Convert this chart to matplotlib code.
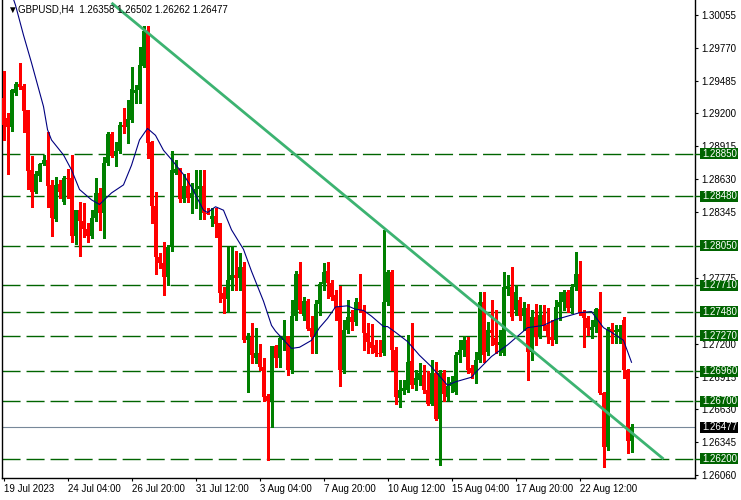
import matplotlib
matplotlib.use("Agg")
import matplotlib.pyplot as plt
import matplotlib.transforms as mtransforms
from matplotlib.patches import Rectangle
import numpy as np

plt.rcParams['font.family'] = ['Liberation Sans', 'DejaVu Sans']
plt.rcParams['lines.scale_dashes'] = False

# GBPUSD H4 candles (one entry per bar)
opens = [
    1.2933, 1.2916, 1.2908, 1.2938, 1.2946, 1.2944, 1.2923, 1.2871, 1.2852, 1.2866,
    1.2876, 1.2880, 1.2858, 1.2828, 1.2859, 1.2843, 1.2864, 1.2864, 1.2814, 1.2836,
    1.2827, 1.2820, 1.2814, 1.2829, 1.2851, 1.2834, 1.2877, 1.2902, 1.2883, 1.2887,
    1.2910, 1.2908, 1.2914, 1.2938, 1.2940, 1.2961, 1.2992, 1.2895, 1.2840, 1.2795,
    1.2790, 1.2778, 1.2804, 1.2868, 1.2872, 1.2846, 1.2857, 1.2847, 1.2851, 1.2854,
    1.2857, 1.2834, 1.2828, 1.2831, 1.2825, 1.2764, 1.2759, 1.2775, 1.2780, 1.2777,
    1.2787, 1.2723, 1.2726, 1.2708, 1.2712, 1.2700, 1.2675, 1.2670, 1.2718, 1.2708,
    1.2723, 1.2727, 1.2697, 1.2744, 1.2781, 1.2744, 1.2757, 1.2734, 1.2726, 1.2755,
    1.2772, 1.2783, 1.2773, 1.2762, 1.2752, 1.2697, 1.2732, 1.2743, 1.2739, 1.2756,
    1.2749, 1.2729, 1.2722, 1.2719, 1.2712, 1.2712, 1.2756, 1.2782, 1.2715, 1.2673,
    1.2679, 1.2680, 1.2705, 1.2684, 1.2689, 1.2693, 1.2680, 1.2668, 1.2695, 1.2655,
    1.2695, 1.2674, 1.2683, 1.2678, 1.2710, 1.2715, 1.2723, 1.2699, 1.2695, 1.2706,
    1.2756, 1.2713, 1.2732, 1.2725, 1.2719, 1.2712, 1.2768, 1.2769, 1.2749, 1.2758,
    1.2744, 1.2751, 1.2713, 1.2743, 1.2726, 1.2745, 1.2736, 1.2726, 1.2723, 1.2752,
    1.2756, 1.2765, 1.2751, 1.2769, 1.2781, 1.2747, 1.2742, 1.2732, 1.2735, 1.2750,
    1.2677, 1.2630, 1.2733, 1.2730, 1.2730, 1.2741, 1.2697, 1.26358,
]
highs = [
    1.2957, 1.2920, 1.2941, 1.2947, 1.2964, 1.2946, 1.2923, 1.2883, 1.2870, 1.2877,
    1.2884, 1.2904, 1.2862, 1.2865, 1.2862, 1.2866, 1.2872, 1.2884, 1.2836, 1.2843,
    1.2842, 1.2825, 1.2836, 1.2864, 1.2855, 1.2882, 1.2904, 1.2904, 1.2895, 1.2913,
    1.2925, 1.2932, 1.2960, 1.2945, 1.2978, 1.2996, 1.2996, 1.2896, 1.2852, 1.2799,
    1.2808, 1.2806, 1.2887, 1.2880, 1.2873, 1.2867, 1.2868, 1.2860, 1.2871, 1.2871,
    1.2871, 1.2838, 1.2838, 1.2838, 1.2825, 1.2769, 1.2804, 1.2805, 1.2801, 1.2799,
    1.2791, 1.2729, 1.2738, 1.2734, 1.2720, 1.2708, 1.2676, 1.2718, 1.2719, 1.2726,
    1.2741, 1.2727, 1.2758, 1.2783, 1.2791, 1.2761, 1.2759, 1.2744, 1.2758, 1.2774,
    1.2790, 1.2791, 1.2775, 1.2767, 1.2770, 1.2741, 1.2758, 1.2749, 1.2760, 1.2781,
    1.2754, 1.2738, 1.2737, 1.2723, 1.2723, 1.2819, 1.2784, 1.2784, 1.2717, 1.2689,
    1.2689, 1.2728, 1.2738, 1.2697, 1.2703, 1.2702, 1.2696, 1.2706, 1.2704, 1.2697,
    1.2697, 1.2691, 1.2692, 1.2713, 1.2723, 1.2727, 1.2726, 1.2702, 1.2713, 1.2765,
    1.2765, 1.2739, 1.2758, 1.2749, 1.2732, 1.2782, 1.2780, 1.2787, 1.2771, 1.2761,
    1.2756, 1.2755, 1.2749, 1.2755, 1.2754, 1.2754, 1.2751, 1.2741, 1.2758, 1.2765,
    1.2767, 1.2767, 1.2772, 1.2800, 1.2792, 1.2749, 1.2744, 1.2741, 1.2751, 1.2765,
    1.2678, 1.2735, 1.2738, 1.2736, 1.2736, 1.2743, 1.2698, 1.26502,
]
lows = [
    1.2897, 1.2867, 1.2905, 1.2936, 1.2941, 1.2904, 1.2854, 1.2839, 1.2851, 1.2861,
    1.2875, 1.2839, 1.2814, 1.2827, 1.2847, 1.2841, 1.2847, 1.2808, 1.2807, 1.2796,
    1.2813, 1.2808, 1.2812, 1.2827, 1.2819, 1.2812, 1.2875, 1.2882, 1.2874, 1.2886,
    1.2903, 1.2894, 1.2913, 1.2929, 1.2929, 1.2960, 1.2881, 1.2825, 1.2781, 1.2786,
    1.2762, 1.2771, 1.2801, 1.2867, 1.2843, 1.2843, 1.2843, 1.2834, 1.2838, 1.2828,
    1.2828, 1.2833, 1.2822, 1.2813, 1.2756, 1.2747, 1.2748, 1.2767, 1.2767, 1.2767,
    1.2722, 1.2678, 1.2703, 1.2703, 1.2697, 1.2670, 1.2619, 1.2648, 1.2700, 1.2700,
    1.2715, 1.2693, 1.2695, 1.2741, 1.2747, 1.2741, 1.2732, 1.2712, 1.2712, 1.2745,
    1.2767, 1.2760, 1.2758, 1.2741, 1.2683, 1.2695, 1.2729, 1.2732, 1.2736, 1.2748,
    1.2715, 1.2712, 1.2712, 1.2709, 1.2709, 1.2710, 1.2754, 1.2697, 1.2668, 1.2665,
    1.2676, 1.2678, 1.2682, 1.2680, 1.2684, 1.2677, 1.2667, 1.2667, 1.2654, 1.2615,
    1.2670, 1.2671, 1.2678, 1.2676, 1.2704, 1.2709, 1.2695, 1.2690, 1.2686, 1.2704,
    1.2704, 1.2710, 1.2719, 1.2712, 1.2710, 1.2710, 1.2762, 1.2741, 1.2745, 1.2741,
    1.2732, 1.2689, 1.2706, 1.2719, 1.2725, 1.2732, 1.2721, 1.2719, 1.2721, 1.2741,
    1.2749, 1.2748, 1.2747, 1.2767, 1.2745, 1.2717, 1.2728, 1.2725, 1.2730, 1.2676,
    1.2613, 1.2628, 1.2721, 1.2721, 1.2721, 1.2690, 1.2625, 1.26262,
]
closes = [
    1.2910, 1.2908, 1.2940, 1.2946, 1.2943, 1.2922, 1.2870, 1.2852, 1.2867, 1.2876,
    1.2880, 1.2857, 1.2829, 1.2858, 1.2852, 1.2864, 1.2863, 1.2814, 1.2836, 1.2827,
    1.2820, 1.2814, 1.2829, 1.2851, 1.2834, 1.2877, 1.2902, 1.2883, 1.2887, 1.2910,
    1.2908, 1.2915, 1.2941, 1.2940, 1.2962, 1.2992, 1.2894, 1.2840, 1.2795, 1.2790,
    1.2778, 1.2804, 1.2871, 1.2872, 1.2846, 1.2857, 1.2847, 1.2851, 1.2854, 1.2857,
    1.2834, 1.2833, 1.2831, 1.2824, 1.2764, 1.2759, 1.2775, 1.2780, 1.2777, 1.2787,
    1.2723, 1.2727, 1.2710, 1.2712, 1.2700, 1.2674, 1.2670, 1.2718, 1.2708, 1.2725,
    1.2727, 1.2697, 1.2744, 1.2781, 1.2749, 1.2757, 1.2733, 1.2726, 1.2755, 1.2772,
    1.2782, 1.2773, 1.2761, 1.2751, 1.2697, 1.2732, 1.2743, 1.2739, 1.2756, 1.2749,
    1.2729, 1.2722, 1.2716, 1.2712, 1.2711, 1.2756, 1.2782, 1.2715, 1.2674, 1.2680,
    1.2682, 1.2704, 1.2684, 1.2690, 1.2695, 1.2680, 1.2668, 1.2695, 1.2655, 1.2695,
    1.2676, 1.2683, 1.2687, 1.2710, 1.2715, 1.2723, 1.2697, 1.2695, 1.2706, 1.2756,
    1.2710, 1.2732, 1.2729, 1.2719, 1.2722, 1.2769, 1.2770, 1.2743, 1.2765, 1.2744,
    1.2751, 1.2713, 1.2743, 1.2726, 1.2745, 1.2736, 1.2726, 1.2723, 1.2752, 1.2756,
    1.2765, 1.2751, 1.2769, 1.2781, 1.2747, 1.2742, 1.2734, 1.2735, 1.2750, 1.2677,
    1.2630, 1.2733, 1.2730, 1.2732, 1.2733, 1.2697, 1.26358, 1.26477,
]

# moving average, sampled along the chart (bar number, price)
ma_bar = [0, 3, 5, 7, 10, 11, 12, 15, 17, 19, 22, 24, 27, 30, 32, 34, 36, 38, 40,
          42, 45, 47, 50, 51, 53, 55, 57, 60, 62, 65, 67, 68, 72, 74, 77, 79, 81,
          83, 86, 88, 90, 92, 95, 96, 98, 101, 104, 107, 111, 113, 117, 118, 122,
          126, 131, 135, 138, 142, 144, 147, 150, 152, 155, 157]
ma_val = [1.3045, 1.3014, 1.2988, 1.2964, 1.2926, 1.2906, 1.2897, 1.2884, 1.2871,
          1.2854, 1.2845, 1.2841, 1.2851, 1.2858, 1.2875, 1.2897, 1.2907, 1.2901,
          1.2888, 1.2880, 1.2867, 1.2856, 1.2836, 1.2834, 1.2839, 1.2836, 1.2819,
          1.2802, 1.2783, 1.2757, 1.2736, 1.2731, 1.2716, 1.2717, 1.2723, 1.2734,
          1.2742, 1.2752, 1.2753, 1.2750, 1.2749, 1.2744, 1.2735, 1.2735, 1.2730,
          1.2722, 1.2710, 1.2700, 1.2684, 1.2687, 1.2691, 1.2695, 1.2709, 1.2719,
          1.2734, 1.2736, 1.2741, 1.2745, 1.2747, 1.2748, 1.2734, 1.2730, 1.2723,
          1.2704]

levels = [1.2885, 1.2848, 1.2805, 1.2771, 1.2748, 1.2727, 1.2696, 1.2670, 1.2620]
trend_bar = [27, 165]
trend_val = [1.3016, 1.2620]
last_price = 1.26477
title = 'GBPUSD,H4  1.26358 1.26502 1.26262 1.26477'

# scale labels that are not hidden behind a level box
price_ticks = [1.30055, 1.29770, 1.29485, 1.29200, 1.28915, 1.28630, 1.28345,
               1.27775, 1.27200, 1.26915, 1.26630, 1.26345, 1.26060]
time_ticks = [0, 16, 32, 48, 64, 80, 96, 112, 128, 144]
time_labels = ['19 Jul 2023', '24 Jul 04:00', '26 Jul 20:00', '31 Jul 12:00',
               '3 Aug 04:00', '7 Aug 20:00', '10 Aug 12:00', '15 Aug 04:00',
               '17 Aug 20:00', '22 Aug 12:00']

W, H = 741, 500
fig = plt.figure(figsize=(W / 100, H / 100), dpi=100)
ax_w, ax_h = 693, 478
ax = fig.add_axes([2 / W, (H - ax_h) / H, ax_w / W, ax_h / H])

o = np.array(opens)
h = np.array(highs)
l = np.array(lows)
c = np.array(closes)
x = np.arange(len(o))
col = np.where(c >= o, '#008000', '#ff0000')

# candles
ax.vlines(x, l, h, colors=col, linewidth=0.75, antialiased=False, zorder=3)
ax.bar(x, np.maximum(np.abs(c - o), 0.00004), bottom=np.minimum(o, c), width=0.72,
       color=col, linewidth=0, antialiased=False, zorder=4)

# support / resistance levels
for lv in levels:
    ax.axhline(lv, color='#006400', linewidth=1.0, linestyle=(0, (13, 4.3)), zorder=2)
ax.axhline(last_price, color='#778899', linewidth=0.8, zorder=2)

ax.plot(ma_bar, ma_val, color='#000080', linewidth=0.8, zorder=5)
ax.plot(trend_bar, trend_val, color='#3cb371', linewidth=2.0, zorder=6,
        solid_capstyle='butt')

ax.set_xlim(-0.375, 172.875)
ax.set_ylim(1.26035, 1.30185)
ax.spines['top'].set_visible(False)
for s in ['left', 'right', 'bottom']:
    ax.spines[s].set_linewidth(1.0)
    ax.spines[s].set_color('black')

ax.yaxis.tick_right()
ax.set_yticks(price_ticks)
ax.set_yticklabels([f'{v:.5f}' for v in price_ticks])
ax.set_xticks(time_ticks)
ax.set_xticklabels(time_labels)
for lbl in ax.get_xticklabels():
    lbl.set_horizontalalignment('left')
ax.tick_params(axis='both', direction='out', length=2.5, width=0.8, labelsize=7,
               pad=2, colors='black')

# level price boxes on the right scale
trans = mtransforms.blended_transform_factory(ax.transAxes, ax.transData)
px = (1.30185 - 1.26035) / ax_h
for lv, fc in [(v, '#006400') for v in levels] + [(last_price, 'black')]:
    ax.add_patch(Rectangle((1 + 5 / ax_w, lv - 5.5 * px), 38 / ax_w, 11 * px,
                           transform=trans, facecolor=fc, edgecolor='none',
                           clip_on=False, zorder=10))
    ax.text(1 + 7.5 / ax_w, lv, f'{lv:.5f}', transform=trans, color='white',
            fontsize=7, va='center', ha='left', clip_on=False, zorder=11)
    if fc != 'black':
        ax.plot([1, 1 + 4 / ax_w], [lv, lv], transform=trans, color='#006400',
                linewidth=1, clip_on=False, zorder=10)

fig.text(7 / W, 1 - 10 / H, '\u25bc', fontsize=7, va='center', ha='left')
fig.text(18 / W, 1 - 10 / H, title, fontsize=7, va='center', ha='left')

fig.savefig('out.png', dpi=100)
